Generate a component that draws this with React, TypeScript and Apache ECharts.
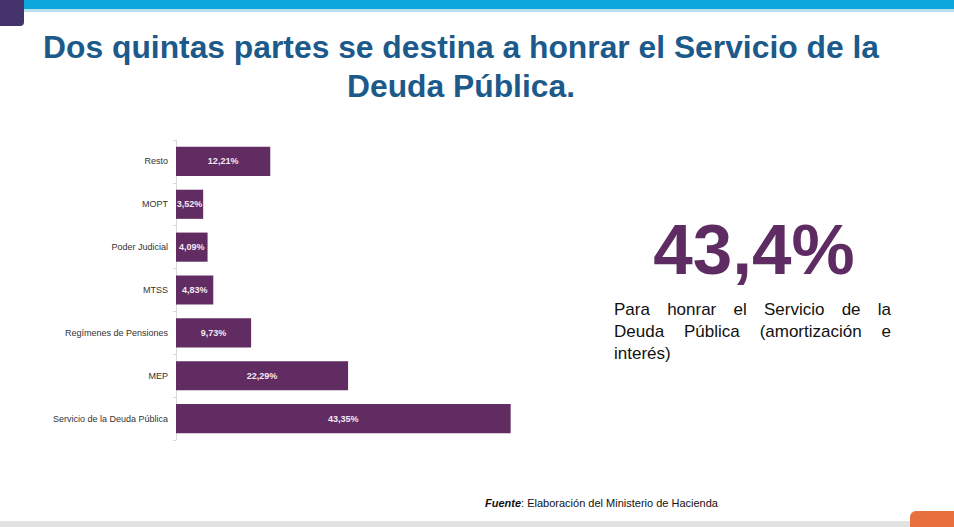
import React, { useEffect, useRef } from "react";
import * as echarts from "echarts";

const categories = [
  "Servicio de la Deuda Pública",
  "MEP",
  "Regímenes de Pensiones",
  "MTSS",
  "Poder Judicial",
  "MOPT",
  "Resto",
];
const values = [43.35, 22.29, 9.73, 4.83, 4.09, 3.52, 12.21];
const titleLines = ["Dos quintas partes se destina a honrar el Servicio de la", "Deuda Pública."];
const bigNumber = "43,4%";
const paragraphLines = [
  ["Para", "honrar", "el", "Servicio", "de", "la"],
  ["Deuda", "Pública", "(amortización", "e"],
  ["interés)"],
];
const sourceLabel = "Fuente";
const sourceText = ": Elaboración del Ministerio de Hacienda";

const fmt = (v: number) => v.toFixed(2).replace(".", ",") + "%";

export default function App() {
  const ref = useRef<HTMLDivElement>(null);
  useEffect(() => {
    document.body.style.margin = "0";
    const chart = echarts.init(ref.current!, null, { renderer: "svg" });
    const purple = "#612c61";

    const pFont = "17px 'Liberation Sans', Arial, sans-serif";
    const canvas = document.createElement("canvas");
    const ctx = canvas.getContext("2d")!;
    ctx.font = pFont;
    const pLeft = 614;
    const pRight = 891;
    const paraEls: any[] = [];
    paragraphLines.forEach((words, li) => {
      const y = 309 + li * 22;
      const justify = li < paragraphLines.length - 1;
      const widths = words.map((w) => ctx.measureText(w).width);
      const total = widths.reduce((a, b) => a + b, 0);
      const gap = justify && words.length > 1 ? (pRight - pLeft - total) / (words.length - 1) : ctx.measureText(" ").width;
      let x = pLeft;
      words.forEach((w, i) => {
        paraEls.push({
          type: "text",
          x,
          y,
          style: { text: w, font: pFont, fill: "#111", textVerticalAlign: "middle" },
        });
        x += widths[i] + gap;
      });
    });

    chart.setOption({
      animation: false,
      grid: { left: 176, top: 140, width: 386, height: 300, containLabel: false },
      xAxis: {
        type: "value",
        min: 0,
        max: 50,
        show: false,
      },
      yAxis: {
        type: "category",
        data: categories,
        axisLine: { show: true, lineStyle: { color: "#d9d9d9", width: 1 } },
        axisTick: { show: true, length: 3, lineStyle: { color: "#d9d9d9" } },
        axisLabel: {
          color: "#333",
          fontSize: 9,
          fontFamily: "'Liberation Sans', Arial, sans-serif",
          margin: 8,
        },
      },
      series: [
        {
          type: "bar",
          data: values,
          barCategoryGap: "32%",
          itemStyle: { color: purple },
          label: {
            show: true,
            position: "inside",
            formatter: (p: any) => fmt(p.value),
            color: "#f4e8f4",
            fontSize: 9,
            fontWeight: "bold",
            fontFamily: "'Liberation Sans', Arial, sans-serif",
          },
        },
      ],
      graphic: [
        { type: "rect", shape: { x: 0, y: 0, width: 954, height: 9 }, style: { fill: "#0aa8db" } },
        { type: "rect", shape: { x: 0, y: 9, width: 954, height: 3 }, style: { fill: "#b7dfec" } },
        { type: "rect", shape: { x: -10, y: -10, width: 34, height: 36, r: 4 }, style: { fill: "#45336b" } },
        { type: "rect", shape: { x: 0, y: 521, width: 954, height: 6 }, style: { fill: "#e3e3e3" } },
        { type: "rect", shape: { x: 910, y: 511, width: 60, height: 30, r: 6 }, style: { fill: "#e8703f" } },
        ...titleLines.map((t, i) => ({
          type: "text",
          x: 461,
          y: 47 + i * 39,
          style: {
            text: t,
            font: "bold 31.8px 'Liberation Sans', Arial, sans-serif",
            fill: "#1b5a8a",
            textAlign: "center",
            textVerticalAlign: "middle",
          },
        })),
        {
          type: "text",
          x: 754,
          y: 249,
          style: {
            text: bigNumber,
            font: "bold 71px 'Liberation Sans', Arial, sans-serif",
            fill: "#5e2c62",
            textAlign: "center",
            textVerticalAlign: "middle",
          },
        },
        ...paraEls,
        {
          type: "text",
          x: 485,
          y: 503,
          style: {
            text: "{b|" + sourceLabel + "}{n|" + sourceText + "}",
            textVerticalAlign: "middle",
            rich: {
              b: { font: "italic bold 11px 'Liberation Sans', Arial, sans-serif", fill: "#111" },
              n: { font: "11px 'Liberation Sans', Arial, sans-serif", fill: "#111" },
            },
          },
        },
      ],
    });
    return () => chart.dispose();
  }, []);
  return <div ref={ref} style={{ width: 954, height: 527 }} />;
}
